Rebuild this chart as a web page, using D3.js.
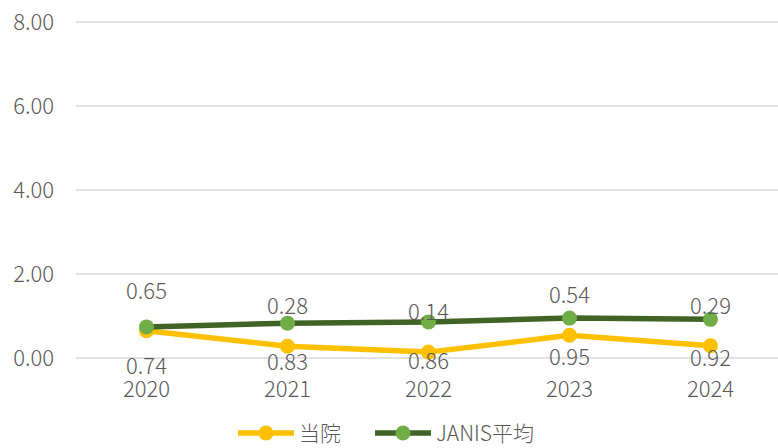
<!DOCTYPE html>
<html>
<head>
<meta charset="utf-8">
<script src="https://cdn.jsdelivr.net/npm/d3@7"></script>
<style>
  body { margin: 0; background: white; }
  text { font-family: "Noto Sans CJK JP", "Noto Sans", sans-serif; fill: #595959; font-weight: 300; }
</style>
</head>
<body>
<svg id="chart" width="778" height="448"></svg>
<script>
// chart data
const years = ["2020", "2021", "2022", "2023", "2024"];
const hospital = [0.65, 0.28, 0.14, 0.54, 0.29];
const janis = [0.74, 0.83, 0.86, 0.95, 0.92];
const yTicks = [0, 2, 4, 6, 8];
const seriesNames = ["当院", "JANIS平均"];

const svg = d3.select("svg#chart");

const x = d3.scaleBand().domain(years).range([76, 781]);
const y = d3.scaleLinear().domain([0, 8]).range([358, 22]);
const cx = d => x(d) + x.bandwidth() / 2;

// gridlines + y labels
svg.append("g").selectAll("line")
  .data(yTicks)
  .enter()
  .append("line")
  .attr("x1", 76).attr("x2", 778)
  .attr("y1", d => y(d)).attr("y2", d => y(d))
  .style("stroke", "#d9d9d9")
  .style("stroke-width", 1.5);

svg.append("g").selectAll("text")
  .data(yTicks)
  .enter()
  .append("text")
  .attr("x", 54)
  .attr("y", d => y(d))
  .attr("dy", "0.36em")
  .attr("text-anchor", "end")
  .style("font-size", "22px")
  .text(d => d.toFixed(2));

// year labels
svg.append("g").selectAll("text")
  .data(years)
  .enter()
  .append("text")
  .attr("x", d => cx(d))
  .attr("y", 389)
  .attr("dy", "0.36em")
  .attr("text-anchor", "middle")
  .style("font-size", "22px")
  .text(d => d);

const series = [
  { name: seriesNames[0], values: hospital, line: "#ffc000", dot: "#ffc000", dy: -40 },
  { name: seriesNames[1], values: janis, line: "#3f6426", dot: "#70ad47", dy: 39 }
];

const line = d3.line()
  .x((d, i) => cx(years[i]))
  .y(d => y(d));

series.forEach(function(s) {
  svg.append("path")
    .datum(s.values)
    .attr("d", line)
    .style("fill", "none")
    .style("stroke", s.line)
    .style("stroke-width", 5.5)
    .style("stroke-linejoin", "round");

  svg.append("g").selectAll("circle")
    .data(s.values)
    .enter()
    .append("circle")
    .attr("cx", (d, i) => cx(years[i]))
    .attr("cy", d => y(d))
    .attr("r", 7.5)
    .style("fill", s.dot);
});

// data labels
series.forEach(function(s) {
  svg.append("g").selectAll("text")
    .data(s.values)
    .enter()
    .append("text")
    .attr("x", (d, i) => cx(years[i]))
    .attr("y", d => y(d) + s.dy)
    .attr("dy", "0.36em")
    .attr("text-anchor", "middle")
    .style("font-size", "22px")
    .text(d => d.toFixed(2));
});

// legend
const legendX = [238, 375];
series.forEach(function(s, i) {
  const lg = svg.append("g").attr("transform", translate(legendX[i], 433));
  lg.append("line")
    .attr("x1", 0).attr("x2", 56)
    .attr("y1", 0).attr("y2", 0)
    .style("stroke", s.line)
    .style("stroke-width", 5.5);
  lg.append("circle")
    .attr("cx", 28).attr("cy", 0).attr("r", 7.5)
    .style("fill", s.dot);
  lg.append("text")
    .attr("x", 61).attr("y", 0)
    .attr("dy", "0.36em")
    .style("font-size", "21px")
    .text(s.name);
});

function translate(a, b) {
  return "translate(" + String(a) + "," + String(b) + ")";
}
</script>
</body>
</html>
